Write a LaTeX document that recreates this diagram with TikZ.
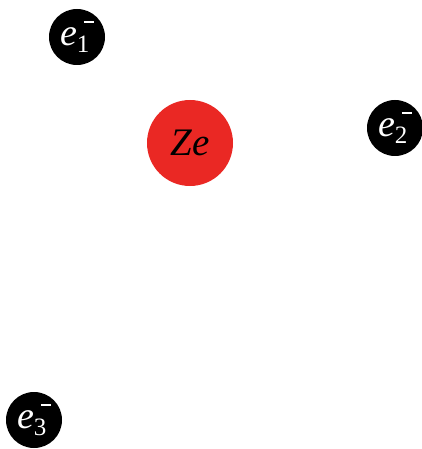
\documentclass[tikz,border=0pt]{standalone}
\usepackage{fontspec}
\setmainfont{Liberation Serif}
\newcommand{\elec}[1]{\textit{e}\raisebox{-7pt}{\fontsize{25}{25}\selectfont #1}\kern-5.5pt\raisebox{22pt}{\rule{10pt}{2pt}}}
\tikzset{
  electron/.style={circle, fill=black, text=white, minimum size=56pt, inner sep=0pt, font=\fontsize{38}{38}\selectfont},
  nucleus/.style={circle, fill={rgb,255:red,234;green,40;blue,36}, text=black, minimum size=86pt, inner sep=0pt, font=\fontsize{39}{39}\selectfont\itshape}
}
\begin{document}
\begin{tikzpicture}[x=1pt,y=1pt]
\useasboundingbox (0,0) rectangle (422,-449);
\node[nucleus] (Z) at (190,-143) {Ze};
\node[electron] (e1) at (77,-37) {\elec{1}};
\node[electron] (e2) at (395,-128) {\elec{2}};
\node[electron] (e3) at (34,-420) {\elec{3}};
\end{tikzpicture}
\end{document}
